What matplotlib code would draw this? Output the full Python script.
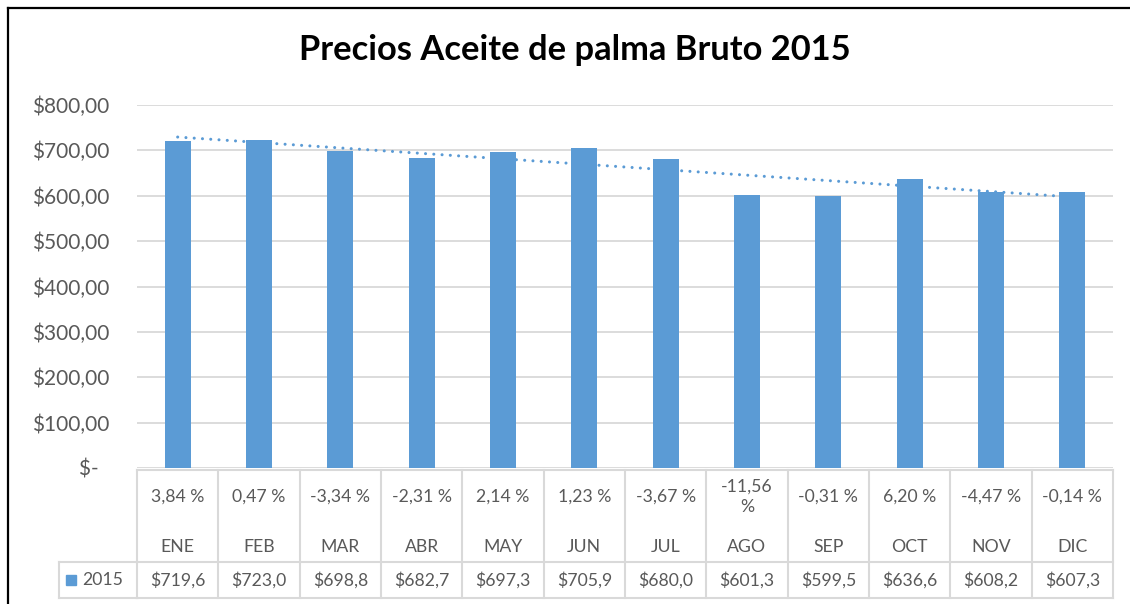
import matplotlib
matplotlib.use("Agg")
import matplotlib.pyplot as plt
import matplotlib.transforms as mtransforms
import numpy as np

# --------------------------------------------------------------------------- #
# Data
# --------------------------------------------------------------------------- #
MONTHS = ["ENE", "FEB", "MAR", "ABR", "MAY", "JUN",
          "JUL", "AGO", "SEP", "OCT", "NOV", "DIC"]
PRICES = [719.6, 723.0, 698.8, 682.7, 697.3, 705.9,
          680.0, 601.3, 599.5, 636.6, 608.2, 607.3]
CHANGES = ["3,84 %", "0,47 %", "-3,34 %", "-2,31 %", "2,14 %", "1,23 %",
           "-3,67 %", "-11,56\n%", "-0,31 %", "6,20 %", "-4,47 %", "-0,14 %"]
SERIES = "2015"
Y_TICKS = [0, 100, 200, 300, 400, 500, 600, 700, 800]
Y_LABELS = ["$-  ", "$100,00", "$200,00", "$300,00", "$400,00",
            "$500,00", "$600,00", "$700,00", "$800,00"]
TITLE = "Precios Aceite de palma Bruto 2015"

BLUE = "#5B9BD5"
TEXT = "#595959"
GRID = "#D9D9D9"
FONT = ["Lato", "DejaVu Sans"]

W, H = 1130, 604
plt.rcParams["font.family"] = FONT

fig = plt.figure(figsize=(W / 100, H / 100), dpi=100)

# overlay in pixel coordinates (y downwards) for table and frame
over = fig.add_axes([0, 0, 1, 1])
over.set_xlim(0, W)
over.set_ylim(H, 0)
over.axis("off")

# chart area
ax_l, ax_r, ax_t, ax_b = 137, 1113, 105, 468
ax = fig.add_axes([ax_l / W, 1 - ax_b / H, (ax_r - ax_l) / W, (ax_b - ax_t) / H])
x = np.arange(len(MONTHS))
ax.bar(x, PRICES, width=0.32, color=BLUE, zorder=3)

# linear trendline
coef = np.polyfit(x, PRICES, 1)
ax.plot(x, np.polyval(coef, x), color=BLUE, lw=2.2,
        linestyle=(0, (0.01, 2.7)), dash_capstyle="round", zorder=4)

ax.set_xlim(-0.5, len(MONTHS) - 0.5)
ax.set_ylim(0, 800)
ax.set_yticks(Y_TICKS)
ax.set_yticklabels(Y_LABELS)
ax.set_xticks([])
ax.tick_params(axis="y", length=0, pad=20, labelsize=15, labelcolor=TEXT)
ax.grid(axis="y", color=GRID, lw=1.3, zorder=0)
for s in ax.spines.values():
    s.set_visible(False)

# title
over.text(575, 50, TITLE, ha="center", va="center", fontsize=24.8,
          fontweight="bold", color="black")

# outer frame (left and top edges)
over.plot([7.5, 7.5], [7.5, H], color="black", lw=1.6)
over.plot([7.5, W], [7.5, 7.5], color="black", lw=1.6)

# data table
tr = mtransforms.blended_transform_factory(ax.transData, over.transData)
row_top, row_mid, row_bot = 470, 562, 598
edges = np.arange(len(MONTHS) + 1) - 0.5
for e in edges:
    over.plot([e, e], [row_top, row_bot], color=GRID, lw=1.5, transform=tr)
over.plot([edges[0], edges[-1]], [row_top, row_top], color=GRID, lw=1.5,
          transform=tr)
over.plot([59, ax_l], [row_mid, row_mid], color=GRID, lw=1.5)
over.plot([59, ax_l], [row_bot, row_bot], color=GRID, lw=1.5)
over.plot([edges[0], edges[-1]], [row_mid, row_mid], color=GRID, lw=1.5,
          transform=tr)
over.plot([edges[0], edges[-1]], [row_bot, row_bot], color=GRID, lw=1.5,
          transform=tr)
over.plot([59, 59], [row_mid, row_bot], color=GRID, lw=1.5)

for i, (m, c, p) in enumerate(zip(MONTHS, CHANGES, PRICES)):
    over.text(i, 497, c, ha="center", va="center", fontsize=12.7,
              color=TEXT, transform=tr, linespacing=1.35)
    over.text(i, 547, m, ha="center", va="center", fontsize=12.7,
              color=TEXT, transform=tr)
    over.text(i, 580, "$" + f"{p:.1f}".replace(".", ","), ha="center",
              va="center", fontsize=12.7, color=TEXT, transform=tr)

# legend key inside table
over.add_patch(plt.Rectangle((66, 575), 10, 10, color=BLUE))
over.text(82, 580, SERIES, ha="left", va="center", fontsize=12.7, color=TEXT)

fig.savefig("out.png", dpi=100)
